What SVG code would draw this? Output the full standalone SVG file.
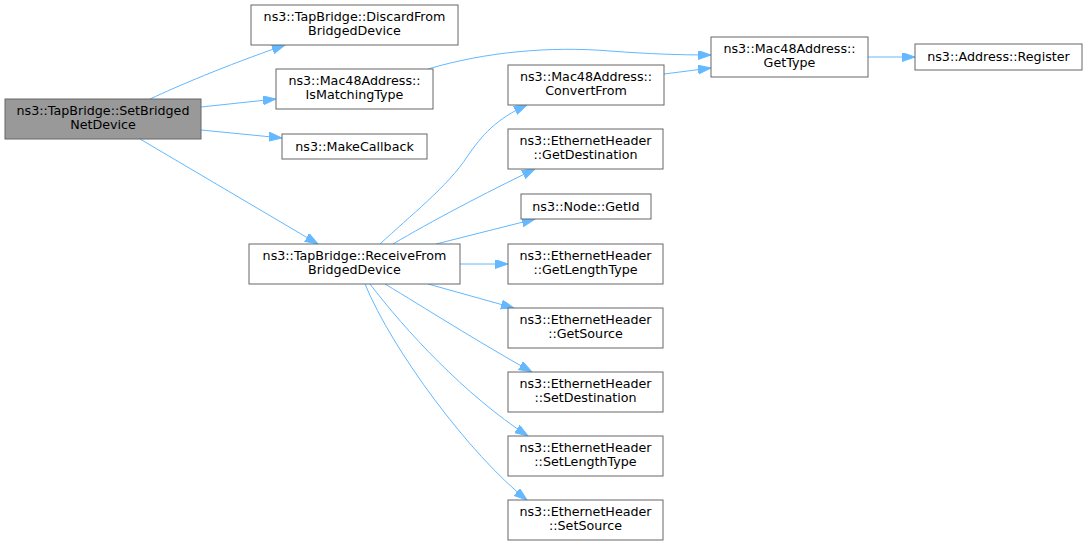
<svg xmlns="http://www.w3.org/2000/svg" width="1088" height="545" viewBox="0 0 1088 545">
<style>
.node rect{fill:#ffffff;stroke:#666666;stroke-width:1}
.node.main rect{fill:#999999}
.node text{font-family:"DejaVu Sans","Liberation Sans",sans-serif;font-size:12.7px;fill:#000000;text-anchor:middle}
.edges path{fill:none;stroke:#63b8ff;stroke-width:1;marker-end:url(#arr)}
</style>
<defs>
<marker id="arr" markerUnits="userSpaceOnUse" markerWidth="14" markerHeight="10" refX="13" refY="4.5" orient="auto">
<path d="M0,0 L13,4.5 L0,9 z" fill="#63b8ff" stroke="#63b8ff" stroke-width="1"/>
</marker>
</defs>
<rect width="1088" height="545" fill="#ffffff"/>
<g class="edges" id="edges">
<path d="M150,99 C178,86 222,67 285,45"/>
<path d="M201,107 L276,99"/>
<path d="M201,130 L282,138"/>
<path d="M140,139 L318,244"/>
<path d="M428,69 C485,52 550,46 610,51 C650,54 680,55 711,55"/>
<path d="M664,74 L711,68"/>
<path d="M868,57 L915,57"/>
<path d="M380,244 C410,216 448,186 467,157 C482,135 496,119 527,105"/>
<path d="M393,244 C430,222 485,193 535,169"/>
<path d="M436,244 L535,219"/>
<path d="M460,264 L508,264"/>
<path d="M428,284 L514,308"/>
<path d="M385,284 C425,308 475,340 532,372"/>
<path d="M370,284 C405,330 465,395 528,436"/>
<path d="M365,284 C392,350 470,455 527,500"/>
</g>
<g class="node main" id="SetBridgedNetDevice">
<rect x="5" y="99" width="196" height="40"/>
<text x="103" y="115">ns3::TapBridge::SetBridged</text>
<text x="103" y="129">NetDevice</text>
</g>
<g class="node" id="DiscardFromBridgedDevice">
<rect x="251" y="5" width="207" height="40"/>
<text x="354.5" y="21">ns3::TapBridge::DiscardFrom</text>
<text x="354.5" y="35">BridgedDevice</text>
</g>
<g class="node" id="IsMatchingType">
<rect x="276" y="69" width="157" height="40"/>
<text x="354.5" y="85">ns3::Mac48Address::</text>
<text x="354.5" y="99">IsMatchingType</text>
</g>
<g class="node" id="MakeCallback">
<rect x="282" y="134" width="145" height="25"/>
<text x="354.5" y="150.5">ns3::MakeCallback</text>
</g>
<g class="node" id="ReceiveFromBridgedDevice">
<rect x="249" y="244" width="211" height="40"/>
<text x="354.5" y="260">ns3::TapBridge::ReceiveFrom</text>
<text x="354.5" y="274">BridgedDevice</text>
</g>
<g class="node" id="ConvertFrom">
<rect x="508" y="65" width="156" height="40"/>
<text x="586" y="81">ns3::Mac48Address::</text>
<text x="586" y="95">ConvertFrom</text>
</g>
<g class="node" id="GetDestination">
<rect x="508" y="129" width="155" height="40"/>
<text x="585.5" y="145">ns3::EthernetHeader</text>
<text x="585.5" y="159">::GetDestination</text>
</g>
<g class="node" id="GetId">
<rect x="521" y="194" width="130" height="25"/>
<text x="586" y="210.5">ns3::Node::GetId</text>
</g>
<g class="node" id="GetLengthType">
<rect x="508" y="244" width="155" height="40"/>
<text x="585.5" y="260">ns3::EthernetHeader</text>
<text x="585.5" y="274">::GetLengthType</text>
</g>
<g class="node" id="GetSource">
<rect x="508" y="308" width="155" height="40"/>
<text x="585.5" y="324">ns3::EthernetHeader</text>
<text x="585.5" y="338">::GetSource</text>
</g>
<g class="node" id="SetDestination">
<rect x="508" y="372" width="155" height="40"/>
<text x="585.5" y="388">ns3::EthernetHeader</text>
<text x="585.5" y="402">::SetDestination</text>
</g>
<g class="node" id="SetLengthType">
<rect x="508" y="436" width="155" height="40"/>
<text x="585.5" y="452">ns3::EthernetHeader</text>
<text x="585.5" y="466">::SetLengthType</text>
</g>
<g class="node" id="SetSource">
<rect x="508" y="500" width="155" height="40"/>
<text x="585.5" y="516">ns3::EthernetHeader</text>
<text x="585.5" y="530">::SetSource</text>
</g>
<g class="node" id="GetType">
<rect x="711" y="37" width="157" height="40"/>
<text x="789.5" y="53">ns3::Mac48Address::</text>
<text x="789.5" y="67">GetType</text>
</g>
<g class="node" id="AddressRegister">
<rect x="915" y="44" width="167" height="26"/>
<text x="998.5" y="61">ns3::Address::Register</text>
</g>
</svg>
